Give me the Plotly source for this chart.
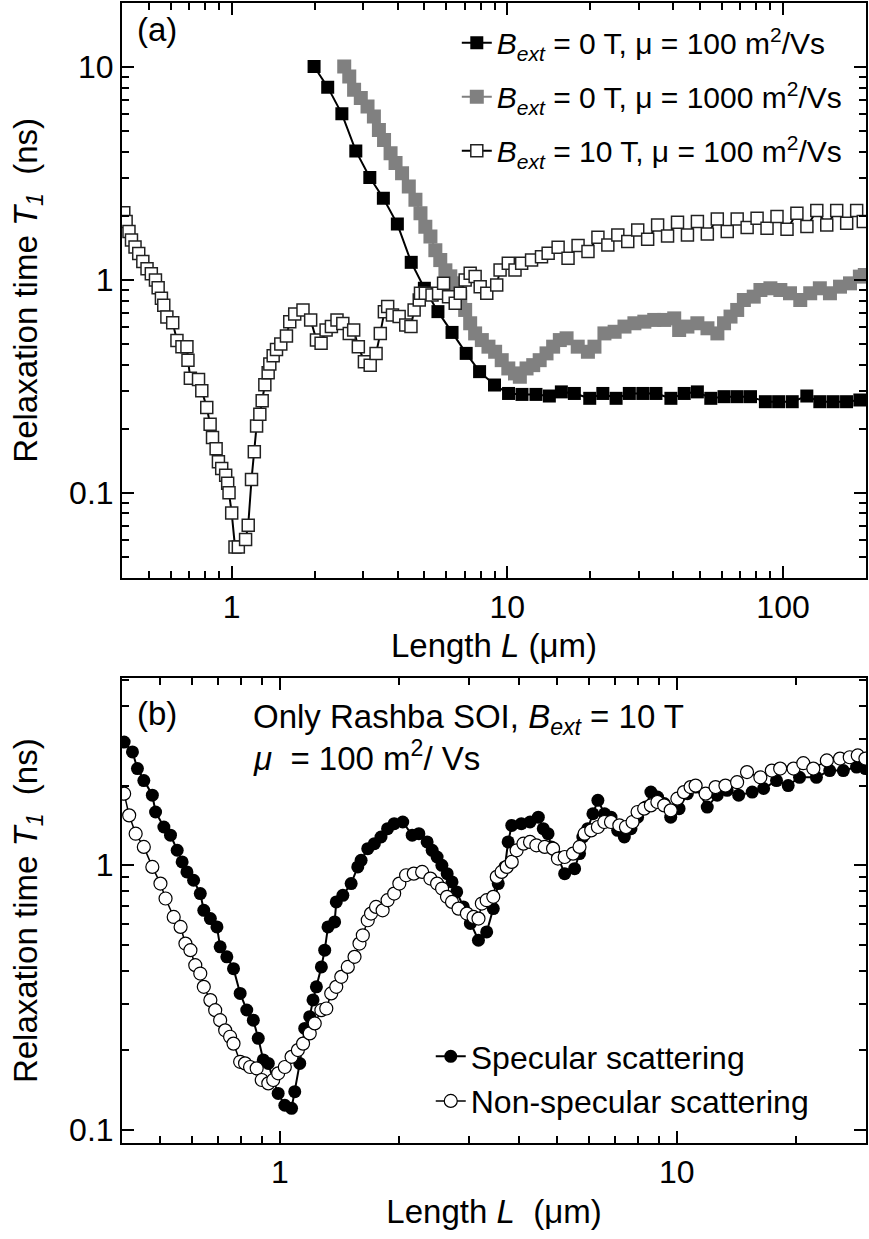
import plotly.graph_objects as go
from plotly.subplots import make_subplots
import math

# ---- panel (a) data: relaxation time T1 (ns) vs length L (um) ----
a_L_b0_mu100 = [1.99, 2.23, 2.51, 2.82, 3.17, 3.55, 3.99, 4.48, 5.0, 5.6, 6.3, 7.09, 7.93, 8.98,
                10.1, 11.3, 12.7, 14.2, 15.7, 17.5, 19.9, 22.2, 24.8, 27.7, 31.0, 34.6, 39.2,
                43.8, 48.9, 54.7, 61.1, 68.2, 76.2, 86.3, 96.4, 108, 122, 136, 152, 170, 190]
a_T_b0_mu100 = [10.07, 8.05, 6.03, 4.04, 3.03, 2.42, 1.83, 1.21, 0.914, 0.71, 0.567, 0.452, 0.371,
                0.321, 0.293, 0.29, 0.29, 0.285, 0.298, 0.293, 0.278, 0.293, 0.278, 0.293, 0.293,
                0.293, 0.278, 0.293, 0.298, 0.278, 0.283, 0.283, 0.283, 0.268, 0.268, 0.268,
                0.285, 0.268, 0.268, 0.268, 0.273]

a_L_b0_mu1000 = [2.56, 2.67, 2.78, 2.94, 3.11, 3.28, 3.42, 3.57, 3.77, 3.93, 4.15, 4.39, 4.64, 4.84,
                 5.04, 5.26, 5.48, 5.71, 5.96, 6.21, 6.47, 6.75, 7.03, 7.33, 7.64, 8.08, 8.54, 9.03,
                 9.54, 10.08, 10.66, 11.1, 11.74, 12.41, 13.1, 13.87, 14.66, 15.5, 16.4, 18.0, 19.6,
                 20.7, 22.5, 24.5, 26.6, 28.9, 31.4, 34.1, 37.1, 40.3, 42.0, 45.0, 48.9, 53.2, 57.8,
                 61.1, 64.5, 68.2, 72.1, 78.3, 82.8, 90.0, 97.8, 106, 115.5, 125.5, 136, 148, 161,
                 175, 190, 198]
a_T_b0_mu1000 = [10.07, 9.04, 7.82, 7.15, 6.53, 5.86, 5.07, 4.55, 3.94, 3.54, 3.17, 2.75, 2.38, 2.06,
                 1.78, 1.60, 1.38, 1.24, 1.11, 1.04, 0.965, 0.835, 0.723, 0.626, 0.561, 0.522, 0.486,
                 0.46, 0.42, 0.384, 0.364, 0.351, 0.384, 0.398, 0.42, 0.452, 0.486, 0.522, 0.532,
                 0.486, 0.46, 0.486, 0.561, 0.571, 0.604, 0.626, 0.637, 0.649, 0.649, 0.66, 0.582,
                 0.604, 0.626, 0.593, 0.561, 0.626, 0.673, 0.723, 0.805, 0.835, 0.897, 0.914, 0.897,
                 0.866, 0.805, 0.866, 0.914, 0.866, 0.93, 0.964, 1.037, 1.055]

a_L_b10_mu100 = [0.406, 0.414, 0.424, 0.433, 0.446, 0.46, 0.476, 0.493, 0.511, 0.529, 0.541, 0.556,
                 0.567, 0.582, 0.611, 0.633, 0.66, 0.688, 0.694, 0.708, 0.758, 0.779, 0.812, 0.835,
                 0.852, 0.878, 0.895, 0.92, 0.951, 0.967, 0.978, 1.0, 1.028, 1.057, 1.123, 1.148,
                 1.18, 1.208, 1.231, 1.265, 1.29, 1.319, 1.356, 1.375, 1.414, 1.454, 1.507, 1.58,
                 1.624, 1.693, 1.814, 1.934, 2.03, 2.11, 2.20, 2.30, 2.41, 2.53, 2.67, 2.77, 2.88,
                 3.03, 3.18, 3.34, 3.46, 3.58, 3.68, 3.83, 4.05, 4.28, 4.47, 4.59, 4.79,
                 4.84, 5.04, 5.33, 5.63, 5.87, 6.12, 6.47, 6.75, 7.03, 7.33, 7.64, 7.97, 8.42, 9.15,
                 9.41, 10.08, 10.66, 11.27, 12.24, 13.3, 14.06,
                 15.28, 16.6, 18.05, 19.61, 21.31, 23.15, 25.16, 27.34, 29.71, 32.28, 35.08, 38.12,
                 41.42, 45.01, 48.91, 53.14, 57.75, 62.75, 68.19, 74.1, 80.52, 87.5, 95.1, 103.4,
                 112.3, 122.1, 132.6, 144.1, 156.6, 170.2, 185.0, 195.5]
a_T_b10_mu100 = [2.07, 1.88, 1.69, 1.54, 1.43, 1.33, 1.22, 1.13, 1.07, 1.0, 0.92, 0.82, 0.76, 0.67,
                 0.63, 0.52, 0.486, 0.486, 0.42, 0.345, 0.341, 0.302, 0.252, 0.21, 0.182, 0.161,
                 0.14, 0.13, 0.121, 0.111, 0.1, 0.0805, 0.0557, 0.0557, 0.0604, 0.0705, 0.1155,
                 0.156, 0.206, 0.234, 0.271, 0.322, 0.367, 0.403, 0.441, 0.472, 0.5, 0.545, 0.637,
                 0.692, 0.723, 0.649, 0.522, 0.504, 0.582, 0.604, 0.649, 0.625, 0.561, 0.582, 0.486,
                 0.413, 0.398, 0.452, 0.561, 0.71, 0.75, 0.685, 0.673, 0.614, 0.604, 0.723, 0.805,
                 0.866, 0.866, 0.85, 0.866, 0.964, 0.835, 0.777, 0.866, 1.0, 1.075, 1.037, 0.93,
                 0.866, 0.947, 1.114, 1.197, 1.114, 1.197, 1.24, 1.287, 1.334,
                 1.424, 1.264, 1.45, 1.359, 1.587, 1.461, 1.627, 1.514, 1.719, 1.553, 1.814, 1.61,
                 1.867, 1.627, 1.881, 1.645, 1.935, 1.688, 1.935, 1.762, 1.95, 1.75, 1.986, 1.731,
                 2.059, 1.781, 2.118, 1.814, 2.118, 1.847, 2.118, 1.881]

# ---- panel (b) data ----
b_L_spec = [0.405, 0.425, 0.4375, 0.454, 0.477, 0.486, 0.51, 0.53, 0.551, 0.567, 0.583, 0.606,
            0.63, 0.643, 0.668, 0.694, 0.707, 0.735, 0.764, 0.794, 0.825, 0.857, 0.882, 0.908,
            0.935, 0.962, 0.99, 1.029, 1.07, 1.09, 1.122, 1.155, 1.189, 1.212, 1.236, 1.272,
            1.297, 1.322, 1.374, 1.387, 1.441, 1.512, 1.571, 1.602, 1.665, 1.73, 1.798, 1.868,
            1.941, 2.04,
            2.155, 2.24, 2.35, 2.42, 2.49, 2.56, 2.64, 2.715, 2.79, 2.90, 3.02, 3.165, 3.32, 3.45,
            3.55, 3.69, 3.76, 3.84, 4.06, 4.27, 4.48, 4.61, 4.74, 4.83, 5.02, 5.22, 5.53, 5.69,
            5.80, 5.97, 6.15, 6.33, 6.58, 6.83, 7.10, 7.38, 7.67, 7.97, 8.36, 8.61, 8.95, 9.30,
            9.66, 10.14, 10.64, 11.17,
            11.94, 12.65, 13.4, 14.33, 15.5, 16.56, 17.85, 19.1, 20.4, 22.5, 24.3, 26.3, 28.4, 29.9]
b_T_spec = [2.92, 2.68, 2.32, 2.09, 1.84, 1.59, 1.395, 1.30, 1.14, 1.03, 0.944, 0.878, 0.782, 0.676,
            0.629, 0.585, 0.492, 0.451, 0.407, 0.328, 0.284, 0.26, 0.222, 0.184, 0.1785, 0.1545,
            0.1375, 0.124, 0.1207, 0.1395, 0.1785, 0.242, 0.268, 0.31, 0.3475, 0.413, 0.478, 0.585,
            0.611, 0.727, 0.77, 0.853, 0.986, 1.044, 1.156, 1.207, 1.279, 1.375, 1.436, 1.457,
            1.30, 1.316, 1.225, 1.139, 1.075, 1.0, 0.93, 0.865, 0.793, 0.696, 0.603, 0.521, 0.56,
            0.686, 0.853, 0.986, 1.225, 1.415, 1.436, 1.457, 1.52, 1.375, 1.316, 1.173, 1.075,
            0.93, 0.971, 1.107, 1.279, 1.375, 1.566, 1.76, 1.566, 1.52, 1.355, 1.279, 1.375, 1.52,
            1.66, 1.89, 1.81, 1.71, 1.52, 1.637, 1.864, 1.975,
            1.66, 1.84, 1.92, 1.84, 1.89, 1.95, 2.09, 2.0, 2.15, 2.15, 2.28, 2.28, 2.35, 2.32]

b_L_nonspec = [0.405, 0.417, 0.433, 0.454, 0.477, 0.50, 0.515, 0.54, 0.562, 0.578, 0.595, 0.612,
               0.63, 0.643, 0.668, 0.687, 0.707, 0.728, 0.749, 0.764, 0.794, 0.817, 0.841, 0.874,
               0.90, 0.935, 0.962, 0.99, 1.029, 1.07, 1.11, 1.144, 1.189, 1.224, 1.272, 1.309,
               1.347, 1.387, 1.428, 1.483, 1.542, 1.587, 1.618, 1.665, 1.697, 1.747, 1.815, 1.868,
               1.941, 2.0, 2.08,
               2.175, 2.283, 2.395, 2.49, 2.563, 2.637, 2.715, 2.82, 2.96, 3.076, 3.166, 3.228,
               3.32, 3.45, 3.52, 3.62, 3.73, 3.84, 3.95, 4.11, 4.27, 4.43, 4.65, 4.88, 5.02, 5.22,
               5.48, 5.69, 5.86, 6.09, 6.33, 6.57, 6.83, 7.17, 7.45, 7.74, 7.97, 8.28, 8.61, 8.94,
               9.30, 9.66, 10.04, 10.43, 10.84, 11.16,
               11.83, 12.53, 13.27, 14.2, 15.04, 16.25, 17.37, 18.23, 19.7, 20.85, 22.1, 23.9,
               25.8, 27.3, 28.6, 29.9]
b_T_nonspec = [1.864, 1.544, 1.316, 1.173, 0.986, 0.853, 0.749, 0.638, 0.585, 0.506, 0.478, 0.4195,
               0.39, 0.3475, 0.3095, 0.2836, 0.26, 0.238, 0.225, 0.212, 0.181, 0.1785, 0.173,
               0.171, 0.1545, 0.15, 0.1545, 0.1637, 0.173, 0.189, 0.2004, 0.212, 0.2316, 0.2527,
               0.2836, 0.2877, 0.328, 0.3475, 0.379, 0.413, 0.451, 0.506, 0.544, 0.62, 0.657, 0.696,
               0.676, 0.738, 0.782, 0.853, 0.917,
               0.93, 0.944, 0.891, 0.853, 0.817, 0.76, 0.727, 0.686, 0.657, 0.638, 0.629, 0.717,
               0.738, 0.76, 0.904, 0.944, 0.986, 1.03, 1.139, 1.207, 1.225, 1.19, 1.173, 1.156,
               1.06, 1.075, 1.107, 1.173, 1.316, 1.355, 1.395, 1.457, 1.457, 1.415, 1.395, 1.457,
               1.59, 1.636, 1.684, 1.734, 1.684, 1.613, 1.785, 1.89, 1.975, 2.0,
               1.864, 1.975, 2.0, 2.06, 2.25, 2.15, 2.28, 2.32, 2.32, 2.43, 2.32, 2.49, 2.53, 2.56,
               2.60, 2.53]

FONT = "Liberation Sans, Arial, Helvetica, sans-serif"
BEXT = "<i>B</i><sub><i>ext</i></sub>"

fig = make_subplots(rows=2, cols=1)

# panel (a)
fig.add_trace(go.Scatter(
    x=a_L_b0_mu100, y=a_T_b0_mu100, mode="lines+markers",
    name=BEXT + " = 0 T, \u03bc = 100 m<sup>2</sup>/Vs", legendgroup="a1",
    line=dict(color="black", width=2),
    marker=dict(symbol="square", size=13, color="black"),
    legend="legend"), row=1, col=1)
fig.add_trace(go.Scatter(
    x=a_L_b0_mu1000, y=a_T_b0_mu1000, mode="lines+markers",
    name=BEXT + " = 0 T, \u03bc = 1000 m<sup>2</sup>/Vs", legendgroup="a2",
    line=dict(color="#808080", width=2),
    marker=dict(symbol="square", size=14, color="#808080"),
    legend="legend"), row=1, col=1)
fig.add_trace(go.Scatter(
    x=a_L_b10_mu100, y=a_T_b10_mu100, mode="lines+markers",
    name=BEXT + " = 10 T, \u03bc = 100 m<sup>2</sup>/Vs", legendgroup="a3",
    line=dict(color="black", width=2),
    marker=dict(symbol="square", size=12, color="white", line=dict(color="#222222", width=1.5)),
    legend="legend"), row=1, col=1)

# panel (b)
fig.add_trace(go.Scatter(
    x=b_L_spec, y=b_T_spec, mode="lines+markers", name="Specular scattering",
    line=dict(color="black", width=2),
    marker=dict(symbol="circle", size=13, color="black"),
    legend="legend2"), row=2, col=1)
fig.add_trace(go.Scatter(
    x=b_L_nonspec, y=b_T_nonspec, mode="lines+markers", name="Non-specular scattering",
    line=dict(color="black", width=1.5),
    marker=dict(symbol="circle", size=13, color="white", line=dict(color="black", width=1.2)),
    legend="legend2"), row=2, col=1)


def minor_vals(lo, hi):
    vals = []
    for e in range(-3, 4):
        for m in range(2, 10):
            v = m * 10 ** e
            if lo <= v <= hi:
                vals.append(v)
    return vals


axis_common = dict(
    type="log", showline=True, linecolor="black", linewidth=2, mirror="allticks",
    ticks="inside", ticklen=12, tickwidth=2, tickcolor="black", showgrid=False,
    zeroline=False, tickfont=dict(family=FONT, size=32, color="black"),
)
fig.update_xaxes(axis_common)
fig.update_yaxes(axis_common)

ytitle = "Relaxation time <i>T<sub>1</sub></i>\u00a0\u00a0(ns)"

fig.update_xaxes(
    row=1, col=1, range=[math.log10(0.4), math.log10(200)],
    tickvals=[1, 10, 100], ticktext=["1", "10", "100"],
    minor=dict(ticks="inside", ticklen=7, tickwidth=1.5, tickcolor="black",
               tickvals=minor_vals(0.4, 200)),
    title=dict(text="Length <i>L</i> (\u03bcm)", font=dict(family=FONT, size=33, color="black"),
               standoff=10),
)
fig.update_yaxes(
    row=1, col=1, range=[math.log10(0.04), math.log10(20)], domain=[0.496, 1.0],
    tickvals=[0.1, 1, 10], ticktext=["0.1", "1", "10"],
    minor=dict(ticks="inside", ticklen=7, tickwidth=1.5, tickcolor="black",
               tickvals=minor_vals(0.04, 20)),
    title=dict(text=ytitle, font=dict(family=FONT, size=33, color="black"), standoff=22),
)
fig.update_xaxes(
    row=2, col=1, range=[math.log10(0.4), math.log10(30)],
    tickvals=[1, 10], ticktext=["1", "10"],
    minor=dict(ticks="inside", ticklen=7, tickwidth=1.5, tickcolor="black",
               tickvals=minor_vals(0.4, 30)),
    title=dict(text="Length <i>L</i>\u00a0\u00a0(\u03bcm)", font=dict(family=FONT, size=33, color="black"),
               standoff=10),
)
fig.update_yaxes(
    row=2, col=1, range=[math.log10(0.0893), math.log10(5.08)], domain=[0.0, 0.4075],
    tickvals=[0.1, 1], ticktext=["0.1", "1"],
    minor=dict(ticks="inside", ticklen=7, tickwidth=1.5, tickcolor="black",
               tickvals=minor_vals(0.0893, 5.08)),
    title=dict(text=ytitle, font=dict(family=FONT, size=33, color="black"), standoff=22),
)

txt = dict(family=FONT, size=33, color="black")
fig.add_annotation(text="(a)", xref="x domain", yref="y domain", x=0.018, y=0.954,
                   xanchor="left", yanchor="middle", showarrow=False, font=txt)
fig.add_annotation(text="(b)", xref="x2 domain", yref="y2 domain", x=0.018, y=0.925,
                   xanchor="left", yanchor="middle", showarrow=False, font=txt)
fig.add_annotation(text="Only Rashba SOI, " + BEXT + " = 10 T", xref="x2 domain", yref="y2 domain",
                   x=0.174, y=0.912, xanchor="left", yanchor="middle", showarrow=False, font=txt)
fig.add_annotation(text="<i>\u03bc</i>\u00a0 = 100 m<sup>2</sup>/ Vs", xref="x2 domain", yref="y2 domain",
                   x=0.174, y=0.832, xanchor="left", yanchor="middle", showarrow=False, font=txt)

fig.update_layout(
    width=869, height=1239,
    margin=dict(l=122, r=1, t=2, b=96),
    paper_bgcolor="white", plot_bgcolor="white",
    font=dict(family=FONT, size=30, color="black"),
    legend=dict(x=0.45, y=0.988, xanchor="left", yanchor="top", bgcolor="rgba(0,0,0,0)",
                font=dict(family=FONT, size=30, color="black"), tracegroupgap=12),
    legend2=dict(x=0.415, y=0.1, xanchor="left", yanchor="top", bgcolor="rgba(0,0,0,0)",
                 font=dict(family=FONT, size=32, color="black"), tracegroupgap=0),
)

# page body margin off so the figure sits at the window origin
fig.write_html("out.html", config={"displayModeBar": False},
               post_script="document.body.style.margin='0px';")
